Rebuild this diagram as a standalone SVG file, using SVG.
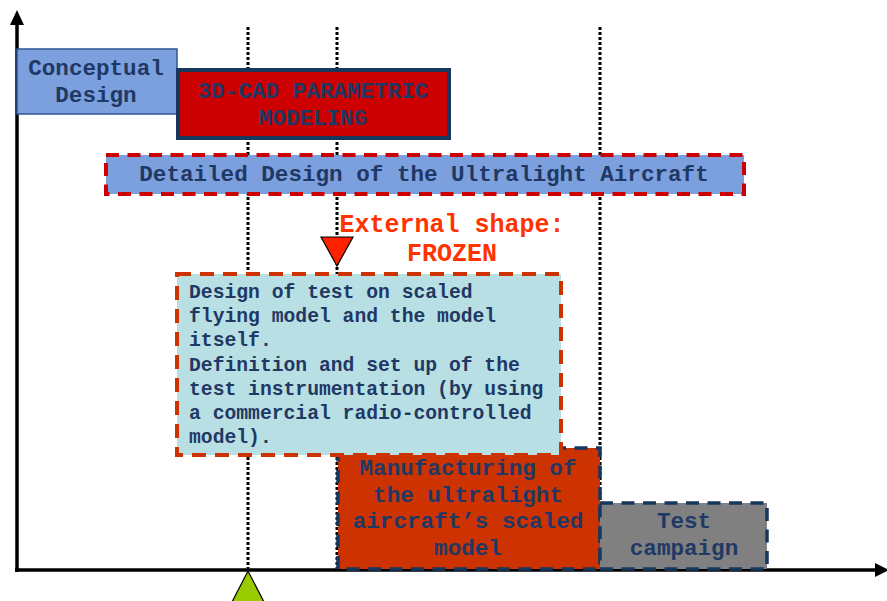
<svg xmlns="http://www.w3.org/2000/svg" width="887" height="601" viewBox="0 0 887 601">
<style>
text{font-family:"Liberation Mono","Courier New",monospace;font-weight:bold;fill:#1f3864}
.c{text-anchor:middle}
.t23{font-size:22.6px}
.t20{font-size:19.7px}
.guide{stroke:#000;stroke-width:3;stroke-dasharray:3 2;fill:none}
.axis{stroke:#000;stroke-width:3.5;fill:none}
</style>
<rect width="887" height="601" fill="#fff"/>
<g id="connectors">
<line class="guide" x1="248" y1="27" x2="248" y2="570"/>
<line class="guide" x1="337" y1="27" x2="337" y2="570"/>
<line class="guide" x1="600" y1="27" x2="600" y2="570"/>
<line class="axis" x1="17" y1="572" x2="17" y2="20"/>
<polygon points="17,10 10,25 24,25" fill="#000"/>
<line class="axis" x1="15" y1="570" x2="878" y2="570"/>
<polygon points="889,570 875,563 875,577" fill="#000"/>
</g>
<g id="conceptual-design">
<rect x="17" y="49" width="160" height="65" fill="#7c9fde" stroke="#2f5597" stroke-width="1.5"/>
<text class="c t23" x="96" y="75">Conceptual</text>
<text class="c t23" x="96" y="102">Design</text>
</g>
<g id="cad-modeling">
<rect x="178" y="70" width="271" height="68" fill="#cc0000" stroke="#17375e" stroke-width="4"/>
<text class="c t23" x="313" y="98">3D-CAD PARAMETRIC</text>
<text class="c t23" x="313" y="125">MODELING</text>
</g>
<g id="detailed-design">
<rect x="106" y="155" width="638" height="39" fill="#7c9fde" stroke="#cc0000" stroke-width="4" stroke-dasharray="13 8.5"/>
<text class="c t23" x="424" y="181">Detailed Design of the Ultralight Aircraft</text>
</g>
<g id="frozen-marker">
<polygon points="321,237 353,237 337,266" fill="#ff2200" stroke="#000" stroke-width="1.2"/>
<text class="c" x="452" y="232" style="font-size:25px;fill:#ff3300">External shape:</text>
<text class="c" x="452" y="261" style="font-size:25px;fill:#ff3300">FROZEN</text>
</g>
<g id="manufacturing">
<rect x="338" y="448" width="262" height="121" fill="#cc3300" stroke="#17375e" stroke-width="3.5" stroke-dasharray="13 8.5"/>
<text class="c t23" x="468" y="475">Manufacturing of</text>
<text class="c t23" x="468" y="502">the ultralight</text>
<text class="c t23" x="468" y="528">aircraft’s scaled</text>
<text class="c t23" x="468" y="555">model</text>
</g>
<g id="test-design">
<rect x="177" y="274" width="384" height="181" fill="#b8dfe3" stroke="#cc3300" stroke-width="4" stroke-dasharray="14 9"/>
<text class="t20" x="189" y="298">Design of test on scaled</text>
<text class="t20" x="189" y="322">flying model and the model</text>
<text class="t20" x="189" y="346">itself.</text>
<text class="t20" x="189" y="371">Definition and set up of the</text>
<text class="t20" x="189" y="395">test instrumentation (by using</text>
<text class="t20" x="189" y="419">a commercial radio-controlled</text>
<text class="t20" x="189" y="443">model).</text>
</g>
<g id="test-campaign">
<rect x="600" y="503" width="167" height="66" fill="#808080" stroke="#17375e" stroke-width="3.5" stroke-dasharray="13 8.5"/>
<text class="c t23" x="684" y="528">Test</text>
<text class="c t23" x="684" y="555">campaign</text>
</g>
<g id="start-marker">
<polygon points="248,571 232,602 264,602" fill="#99cc00" stroke="#000" stroke-width="1.2"/>
</g>
</svg>
